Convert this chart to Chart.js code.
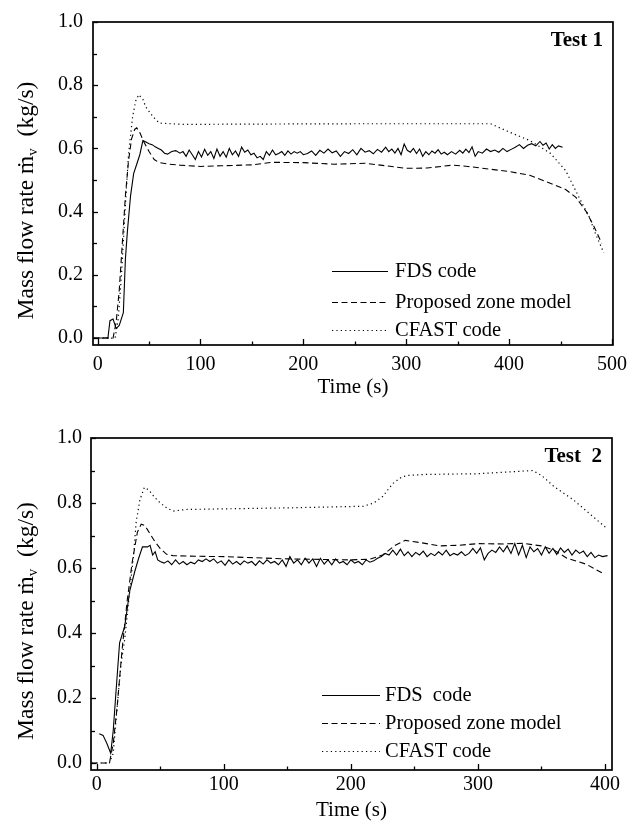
<!DOCTYPE html>
<html><head><meta charset="utf-8">
<script src="https://cdn.jsdelivr.net/npm/chart.js@4/dist/chart.umd.min.js"></script>
<style>
html,body{margin:0;padding:0;background:#fff;width:635px;height:826px;overflow:hidden}
canvas{position:absolute;left:0}
#c1{top:0}
#c2{top:405px}
</style></head><body>
<canvas id="c1" width="635" height="405"></canvas>
<canvas id="c2" width="635" height="421"></canvas>
<script>
// ---------- Test 1 ----------
const t1FdsTime = [-4,10,12,15,18,21,24,25,27,29,32,35,38,41,44,47,50,53,56,59,62,65,68,72,76,80,83,86,89,92,95,98,101,104,107,110,113,116,119,122,125,128,131,134,137,140,143,146,149,152,155,158,161,164,167,170,173,176,179,182,185,188,191,194,197,200,204,208,212,216,220,224,228,232,236,240,244,248,252,256,260,264,268,272,276,280,283,286,289,292,295,298,301,304,307,310,313,316,319,322,325,328,331,334,337,340,344,348,352,355,358,361,364,367,370,374,378,382,386,390,394,398,402,406,410,414,418,422,426,430,433,436,439,442,445,448,452];
const t1Fds = [0,0,0.055,0.06,0.03,0.04,0.07,0.08,0.25,0.34,0.45,0.52,0.55,0.58,0.625,0.62,0.615,0.612,0.605,0.6,0.595,0.585,0.582,0.59,0.593,0.585,0.59,0.575,0.595,0.58,0.565,0.59,0.573,0.597,0.578,0.59,0.568,0.598,0.575,0.59,0.572,0.6,0.58,0.592,0.575,0.604,0.588,0.595,0.58,0.585,0.57,0.575,0.565,0.59,0.578,0.595,0.58,0.584,0.59,0.578,0.592,0.582,0.59,0.585,0.59,0.58,0.584,0.592,0.578,0.594,0.585,0.598,0.586,0.592,0.575,0.59,0.584,0.596,0.58,0.6,0.588,0.593,0.583,0.597,0.588,0.604,0.59,0.598,0.585,0.6,0.58,0.614,0.594,0.588,0.6,0.584,0.598,0.575,0.59,0.58,0.592,0.585,0.596,0.582,0.588,0.58,0.59,0.582,0.594,0.585,0.598,0.587,0.605,0.575,0.59,0.585,0.598,0.59,0.595,0.588,0.6,0.59,0.597,0.604,0.612,0.6,0.61,0.615,0.608,0.622,0.61,0.617,0.598,0.612,0.6,0.608,0.604];
const t1ZoneTime = [-4,15,18,21,24,27,30,33,36,38,41,45,50,55,60,70,80,100,120,150,170,200,230,260,280,300,320,345,360,380,400,420,440,455,465,475,483,490];
const t1Zone = [0,0,0.05,0.15,0.3,0.45,0.56,0.63,0.66,0.665,0.65,0.62,0.59,0.565,0.555,0.55,0.547,0.543,0.545,0.548,0.556,0.555,0.55,0.553,0.545,0.537,0.538,0.547,0.543,0.535,0.527,0.515,0.49,0.47,0.445,0.4,0.35,0.3];
const t1CfastTime = [-4,17,20,23,27,30,34,37,40,44,47,54,60,83,150,250,330,382,400,420,440,455,468,478,484,492];
const t1Cfast = [0,0,0.06,0.19,0.42,0.58,0.7,0.75,0.77,0.755,0.73,0.7,0.68,0.676,0.677,0.678,0.678,0.678,0.652,0.625,0.585,0.53,0.445,0.383,0.33,0.27];

// ---------- Test 2 ----------
const t2FdsTime = [2,5,8,11,13,15,18,22,26,30,33,36,40,42,44,46,48,50,53,56,59,62,65,68,71,74,77,80,83,86,89,92,95,98,101,104,107,110,113,116,119,122,125,128,131,134,137,140,143,146,149,152,155,158,161,164,167,170,173,176,179,182,185,188,191,194,197,200,203,206,209,212,215,218,221,224,227,230,233,236,239,242,245,248,251,254,257,260,263,266,269,272,275,278,281,284,287,290,293,296,299,302,305,308,311,314,317,320,323,326,329,332,335,338,341,344,347,350,353,356,359,362,365,368,371,374,377,380,383,386,389,392,395,398,402];
const t2Fds = [0.09,0.085,0.06,0.03,0.1,0.21,0.37,0.42,0.53,0.59,0.63,0.665,0.665,0.67,0.64,0.65,0.625,0.62,0.615,0.622,0.61,0.625,0.612,0.62,0.61,0.618,0.613,0.625,0.62,0.628,0.62,0.628,0.615,0.622,0.608,0.625,0.612,0.62,0.61,0.622,0.615,0.62,0.608,0.622,0.612,0.625,0.615,0.62,0.61,0.625,0.605,0.635,0.615,0.625,0.61,0.63,0.615,0.628,0.605,0.63,0.612,0.625,0.61,0.628,0.615,0.62,0.61,0.625,0.615,0.62,0.61,0.625,0.618,0.622,0.63,0.635,0.645,0.64,0.655,0.64,0.658,0.638,0.65,0.635,0.648,0.64,0.652,0.635,0.645,0.638,0.65,0.64,0.655,0.638,0.645,0.64,0.65,0.638,0.645,0.66,0.645,0.662,0.625,0.645,0.655,0.648,0.665,0.65,0.668,0.645,0.675,0.64,0.67,0.632,0.665,0.65,0.66,0.64,0.665,0.645,0.66,0.642,0.662,0.648,0.658,0.64,0.655,0.645,0.652,0.635,0.648,0.632,0.64,0.635,0.638];
const t2ZoneTime = [-4,10,13,16,20,24,28,32,35,38,42,46,50,55,60,80,100,150,200,215,225,235,243,255,270,285,300,320,335,350,360,370,385,400];
const t2Zone = [0,0,0.06,0.17,0.35,0.5,0.62,0.71,0.735,0.73,0.705,0.68,0.66,0.642,0.638,0.636,0.635,0.628,0.625,0.627,0.64,0.67,0.685,0.678,0.668,0.67,0.675,0.674,0.676,0.668,0.655,0.63,0.612,0.58];
const t2CfastTime = [-4,10,13,16,19,22,26,29,31,34,37.5,41,45,50,55,60,70,100,150,210,218,225,233,240,245,260,300,343,350,360,375,390,402];
const t2Cfast = [0,0,0.03,0.17,0.3,0.38,0.53,0.64,0.74,0.81,0.848,0.84,0.82,0.8,0.785,0.775,0.78,0.782,0.785,0.79,0.8,0.82,0.86,0.88,0.885,0.888,0.89,0.9,0.885,0.85,0.81,0.76,0.72];

// ---------- axes / labels ----------
const xTicks1 = [0,100,200,300,400,500];
const xMinor1 = [0,50,100,150,200,250,300,350,400,450,500];
const xTicks2 = [0,100,200,300,400];
const xMinor2 = [0,50,100,150,200,250,300,350,400];
const yTicks = [0,0.2,0.4,0.6,0.8,1.0];
const yMinor = [0,0.1,0.2,0.3,0.4,0.5,0.6,0.7,0.8,0.9,1.0];
const names1 = ['FDS code','Proposed zone model','CFAST code'];
const names2 = ['FDS  code','Proposed zone model','CFAST code'];
const panel1 = 'Test 1';
const panel2 = 'Test  2';
const xTitle = 'Time (s)';

const SERIF = "'Liberation Serif','Times New Roman',serif";
const pts = (ts, vs) => ts.map((t, i) => ({x: t, y: vs[i]}));
const styles = [
  {borderDash: [], borderWidth: 1.1},
  {borderDash: [6, 3.5], borderWidth: 1.1},
  {borderDash: [1.2, 3.2], borderWidth: 1.2}
];

const decor = {
  id: 'decor',
  afterDraw(chart, args, o) {
    const ctx = chart.ctx, a = chart.chartArea, xs = chart.scales.x, ys = chart.scales.y;
    ctx.save();
    ctx.strokeStyle = '#000'; ctx.fillStyle = '#000'; ctx.setLineDash([]);
    // frame
    ctx.lineWidth = 1.7;
    ctx.strokeRect(a.left, a.top, a.right - a.left, a.bottom - a.top);
    // inward ticks
    ctx.lineWidth = 1.3;
    o.xMinor.forEach(v => {
      const px = Math.round(xs.getPixelForValue(v)) + 0.5;
      const L = o.xMajor.includes(v) ? 6 : 3.5;
      ctx.beginPath(); ctx.moveTo(px, a.bottom); ctx.lineTo(px, a.bottom - L); ctx.stroke();
    });
    o.yMinor.forEach((v, i) => {
      const py = Math.round(ys.getPixelForValue(v)) + 0.5;
      const L = i % 2 === 0 ? 5 : 4;
      ctx.beginPath(); ctx.moveTo(a.left, py); ctx.lineTo(a.left + L, py); ctx.stroke();
    });
    // panel label
    ctx.font = 'bold 21px ' + SERIF;
    ctx.textAlign = 'right'; ctx.textBaseline = 'middle';
    ctx.fillText(o.panel, a.right - 10, a.top + 19);
    // x title
    ctx.font = '21px ' + SERIF;
    ctx.textAlign = 'center';
    ctx.fillText(o.xTitle, (a.left + a.right) / 2, a.bottom + o.xTitleDy);
    // legend
    ctx.textAlign = 'left';
    ctx.font = '20.5px ' + SERIF;
    chart.data.datasets.forEach((ds, i) => {
      const y = o.legY[i];
      ctx.save();
      ctx.lineWidth = ds.borderWidth;
      ctx.setLineDash(ds.borderDash || []);
      ctx.beginPath(); ctx.moveTo(o.legX1, y + 0.5); ctx.lineTo(o.legX2, y + 0.5); ctx.stroke();
      ctx.restore();
      ctx.fillText(ds.label, o.legTx, y + 1);
    });
    // y title with dotted m and subscript v
    ctx.translate(25, (a.top + a.bottom) / 2 + 17);
    ctx.rotate(-Math.PI / 2);
    ctx.textAlign = 'left'; ctx.textBaseline = 'alphabetic';
    const parts = [
      {t: 'Mass flow rate ', f: 23.5, dy: 0},
      {t: '\u1E41', f: 23.5, dy: 0},
      {t: 'v', f: 15, dy: 4},
      {t: '  (kg/s)', f: 23.5, dy: 0}
    ];
    let total = 0;
    parts.forEach(p => { ctx.font = p.f + 'px ' + SERIF; p.w = ctx.measureText(p.t).width; total += p.w; });
    let x = -total / 2;
    parts.forEach(p => { ctx.font = p.f + 'px ' + SERIF; ctx.fillText(p.t, x, 8 + p.dy); x += p.w; });
    ctx.restore();
  }
};

function makeChart(id, cfg) {
  return new Chart(document.getElementById(id), {
    type: 'line',
    data: {
      datasets: cfg.series.map((s, i) => Object.assign({
        label: cfg.names[i],
        data: s,
        borderColor: '#000',
        backgroundColor: '#000',
        pointRadius: 0,
        tension: 0,
        fill: false
      }, styles[i]))
    },
    options: {
      responsive: false,
      animation: false,
      devicePixelRatio: 1,
      layout: {padding: {left: 0, top: cfg.padTop, right: cfg.padRight, bottom: 0}},
      plugins: {
        legend: {display: false},
        tooltip: {enabled: false},
        decor: cfg.decor
      },
      scales: {
        x: {
          type: 'linear', min: cfg.xMin, max: cfg.xMax,
          afterFit: s => { s.height = cfg.xH; },
          afterBuildTicks: s => { s.ticks = cfg.xTicks.map(v => ({value: v})); },
          grid: {display: false, drawTicks: false},
          border: {display: false},
          ticks: {color: '#000', font: {family: SERIF, size: 20}, padding: cfg.xPad, maxRotation: 0, autoSkip: false,
                  callback: v => String(v)},
          title: {display: false}
        },
        y: {
          type: 'linear', min: cfg.yMin, max: 1.0,
          afterFit: s => { s.width = cfg.yW; },
          afterBuildTicks: s => { s.ticks = yTicks.map(v => ({value: v})); },
          grid: {display: false, drawTicks: false},
          border: {display: false},
          ticks: {color: '#000', font: {family: SERIF, size: 20}, padding: cfg.yPad, autoSkip: false,
                  callback: v => Number(v).toFixed(1)},
          title: {display: false}
        }
      }
    },
    plugins: [decor]
  });
}

makeChart('c1', {
  series: [pts(t1FdsTime, t1Fds), pts(t1ZoneTime, t1Zone), pts(t1CfastTime, t1Cfast)],
  names: names1,
  padTop: 13, padRight: 21, xH: 60, yW: 93,
  xMin: -4.5, xMax: 501, yMin: -0.022,
  xTicks: xTicks1, xPad: 8, yPad: 10,
  decor: {xMinor: xMinor1, xMajor: xTicks1, yMinor: yMinor, panel: panel1, xTitle: xTitle, xTitleDy: 42,
          legX1: 332, legX2: 388, legTx: 395, legY: [271, 302, 330]}
});

makeChart('c2', {
  series: [pts(t2FdsTime, t2Fds), pts(t2ZoneTime, t2Zone), pts(t2CfastTime, t2Cfast)],
  names: names2,
  padTop: 33, padRight: 23, xH: 56, yW: 91,
  xMin: -4.5, xMax: 405.5, yMin: -0.0215,
  xTicks: xTicks2, xPad: 3, yPad: 9,
  decor: {xMinor: xMinor2, xMajor: xTicks2, yMinor: yMinor, panel: panel2, xTitle: xTitle, xTitleDy: 40,
          legX1: 322, legX2: 380, legTx: 385, legY: [290, 318, 346]}
});
</script>
</body></html>
